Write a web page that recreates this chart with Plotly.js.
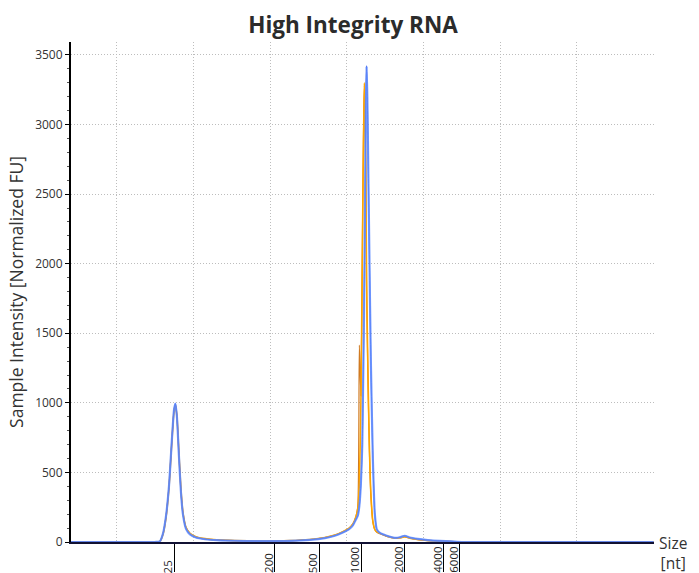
<!DOCTYPE html>
<html>
<head>
<meta charset="utf-8">
<script src="https://cdn.plot.ly/plotly-3.0.1.min.js"></script>
<style>
  html, body { margin: 0; padding: 0; background: #ffffff; }
  #chart { width: 699px; height: 573px; }
</style>
</head>
<body>
<div id="chart"></div>
<script>
// Migration time (s)
const time = [17.00, 18.89, 20.85, 22.48, 22.80, 23.00, 23.19, 23.39, 23.59, 23.72, 23.81, 23.91, 24.04, 24.17, 24.30, 24.50, 24.76, 25.15, 25.74, 26.52, 27.69, 29.32, 31.28, 32.58, 33.56, 34.21, 34.73, 35.12, 35.39, 35.58, 35.71, 35.81, 35.91, 36.00, 36.05, 36.10, 36.14, 36.17, 36.23, 36.28, 36.33, 36.39, 36.46, 36.56, 36.69, 36.82, 36.95, 37.15, 37.60, 38.12, 38.45, 38.77, 39.10, 39.62, 40.27, 41.06, 41.84, 42.49, 43.66, 46.27, 50.18, 55.00];

// Sample intensities [Normalized FU]
const sampleLightBlue = [0, 0, 0, 0, 5, 60, 180, 400, 750, 950, 995, 900, 620, 360, 200, 95, 55, 32, 20, 13, 9, 6, 8, 15, 28, 45, 68, 90, 120, 160, 190, 260, 420, 700, 1100, 1500, 1950, 2300, 3100, 3420, 3200, 2700, 2100, 1300, 600, 200, 90, 65, 45, 30, 34, 45, 32, 22, 14, 8, 4, 0, 0, 0, 0, 0];
const sampleBlue      = [0, 0, 0, 0, 5, 60, 180, 400, 750, 950, 995, 900, 620, 360, 200, 95, 55, 32, 20, 13, 9, 6, 8, 15, 28, 45, 68, 90, 120, 160, 190, 260, 420, 700, 1100, 1500, 1950, 2300, 3100, 3420, 3200, 2700, 2100, 1300, 600, 200, 90, 65, 45, 30, 34, 45, 32, 22, 14, 8, 4, 0, 0, 0, 0, 0];
const sampleOrange    = [0, 0, 0, 0, 4, 55, 170, 390, 740, 940, 985, 905, 640, 380, 215, 105, 62, 38, 24, 15, 10, 7, 10, 18, 32, 50, 74, 98, 130, 180, 240, 420, 1000, 2000, 2600, 3050, 3300, 3150, 2700, 1900, 1500, 1100, 700, 350, 150, 90, 72, 62, 42, 28, 30, 38, 28, 18, 11, 6, 3, 0, 0, 0, 0, 0];
const sampleBrown     = [0, 0, 0, 0, 4, 55, 170, 390, 740, 940, 985, 905, 640, 380, 215, 105, 62, 38, 24, 15, 10, 7, 10, 18, 32, 50, 74, 98, 130, 180, 260, 1415, 1050, 2050, 2650, 3100, 3280, 3100, 2650, 1850, 1450, 1050, 680, 340, 145, 88, 70, 60, 40, 27, 29, 36, 27, 17, 10, 6, 3, 0, 0, 0, 0, 0];

// Ladder (size standard) positions on the time axis
const ladderTimes  = [23.78, 30.30, 33.19, 35.93, 38.77, 41.32, 42.36];
const ladderLabels = ['25', '200', '500', '1000', '2000', '4000', '6000'];

const xRange = [17.0, 55.03];

function sampleTrace(y, color, width, xa) {
  return { x: time, y: y, type: 'scatter', mode: 'lines', xaxis: xa, yaxis: 'y',
           line: { color: color, width: width, shape: 'spline', smoothing: 0.6 },
           cliponaxis: false, hoverinfo: 'x+y', showlegend: false };
}

const data = [
  sampleTrace(sampleBrown, '#d07a22', 1.2, 'x'),
  sampleTrace(sampleOrange, '#ffa500', 1.6, 'x'),
  sampleTrace(sampleLightBlue, 'rgba(95,140,255,0.85)', 2.2, 'x2'),
  sampleTrace(sampleBlue, '#1f3bd0', 0.9, 'x')
];

const fontFam = '"Open Sans", "Noto Sans", sans-serif';
const gridDash = '1px,2px';

// Ladder labels: rotated text that starts below the axis and reads upward
const ladderAnnotations = ladderTimes.map((t, i) => ({
  text: ladderLabels[i], x: t, xref: 'x', y: 0, yref: 'y',
  xanchor: 'center', yanchor: 'bottom', xshift: -7, yshift: -32,
  textangle: -90, showarrow: false, borderpad: 0,
  font: { size: 11.5, color: '#222222', family: fontFam }
}));

const layout = {
  width: 699, height: 573,
  margin: { l: 71, r: 45, t: 42, b: 31 },
  paper_bgcolor: '#ffffff', plot_bgcolor: '#ffffff',
  font: { family: fontFam, color: '#333333' },
  title: { text: '<b>High Integrity RNA</b>', x: 0.505, xanchor: 'center', xref: 'container',
           y: 0.956, yanchor: 'middle', font: { size: 22.5, color: '#2b2b2b', family: fontFam } },
  xaxis: {
    range: xRange, fixedrange: true,
    tickmode: 'array', tickvals: ladderTimes, showticklabels: false,
    ticks: 'outside', ticklen: 28, tickwidth: 1, tickcolor: '#000000',
    showgrid: false, zeroline: false, showline: true, linecolor: '#111133', linewidth: 2
  },
  xaxis2: {
    range: xRange, overlaying: 'x', anchor: 'y', fixedrange: true,
    tick0: 20, dtick: 5, showticklabels: false, ticks: '',
    showgrid: true, gridcolor: '#bdbdbd', griddash: gridDash, gridwidth: 1,
    zeroline: false, showline: false
  },
  yaxis: {
    range: [0, 3593], fixedrange: true,
    tick0: 0, dtick: 500, ticks: 'outside', ticklen: 4, tickcolor: '#000000',
    minor: { dtick: 100, ticks: 'outside', ticklen: 2, tickcolor: '#555555', showgrid: false },
    tickfont: { size: 12, color: '#333333', family: fontFam },
    showgrid: true, gridcolor: '#bdbdbd', griddash: gridDash, gridwidth: 1,
    zeroline: false, showline: true, linecolor: '#000000', linewidth: 2,
    title: { text: 'Sample Intensity [Normalized FU]', standoff: 7,
             font: { size: 17.5, color: '#333333', family: fontFam } }
  },
  annotations: ladderAnnotations.concat([{
    text: 'Size<br>[nt]', xref: 'paper', yref: 'paper', x: 1, y: 0,
    xanchor: 'left', yanchor: 'middle', xshift: 3, yshift: -11, align: 'center',
    showarrow: false, font: { size: 15.5, color: '#333333', family: fontFam }
  }])
};

Plotly.newPlot('chart', data, layout, { displayModeBar: false, staticPlot: true });
</script>
</body>
</html>
